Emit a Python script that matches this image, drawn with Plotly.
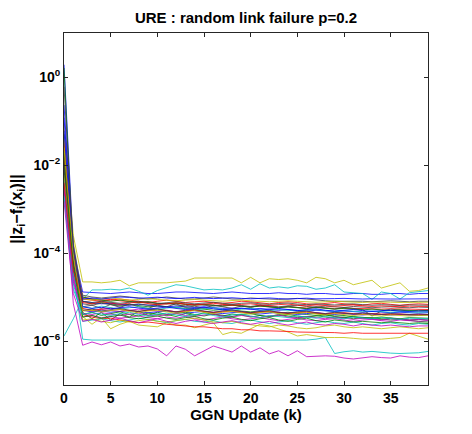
import plotly.graph_objects as go

# ---------------- data ----------------
k_steps = list(range(40))

s01 = [1.9, 1.2e-4, 1.3e-5, 1.25e-5, 1.2e-5, 1.2e-5, 1.25e-5, 1.3e-5, 1.25e-5, 1.2e-5, 1.2e-5, 1.25e-5, 1.3e-5, 1.3e-5, 1.25e-5, 1.2e-5, 1.2e-5, 1.25e-5, 1.3e-5, 1.25e-5, 1.2e-5, 1.2e-5, 1.2e-5, 1.25e-5, 1.2e-5, 1.2e-5, 1.15e-5, 1.2e-5, 1.2e-5, 1.15e-5, 1.15e-5, 1.2e-5, 1.2e-5, 1.15e-5, 1.15e-5, 1.2e-5, 1.2e-5, 1.15e-5, 1.2e-5, 1.2e-5]
s02 = [1.6, 6e-5, 8e-6, 7e-6, 7.5e-6, 7e-6, 6.5e-6, 6.8e-6, 6.5e-6, 6e-6, 6.2e-6, 6e-6, 5.8e-6, 5.5e-6, 5.6e-6, 5.3e-6, 5e-6, 5.2e-6, 5e-6, 4.8e-6, 4.6e-6, 4.8e-6, 4.5e-6, 4.3e-6, 4.5e-6, 4.2e-6, 4e-6, 4.2e-6, 3.9e-6, 3.7e-6, 3.8e-6, 3.5e-6, 3.3e-6, 3.4e-6, 3.2e-6, 3e-6, 3.1e-6, 2.9e-6, 2.8e-6, 2.7e-6]
s03 = [3e-2, 9e-5, 9e-6, 8.5e-6, 8e-6, 8.5e-6, 9e-6, 8.5e-6, 8e-6, 7.5e-6, 8e-6, 8.5e-6, 8e-6, 7.5e-6, 7.8e-6, 8e-6, 7.5e-6, 7.2e-6, 7.5e-6, 8e-6, 7.8e-6, 7.5e-6, 7e-6, 7.5e-6, 7.8e-6, 7.5e-6, 7e-6, 6.8e-6, 7.2e-6, 7.5e-6, 7e-6, 6.8e-6, 6.5e-6, 7e-6, 7.2e-6, 6.8e-6, 6.5e-6, 6.8e-6, 7e-6, 6.8e-6]
s04 = [1.3e-6, 3.2e-6, 9e-6, 1.45e-5, 1.45e-5, 1.5e-5, 1.45e-5, 1.6e-5, 1.35e-5, 1.1e-5, 1.4e-5, 1.6e-5, 1.9e-5, 1.8e-5, 1.6e-5, 1.45e-5, 1.5e-5, 1.45e-5, 1.6e-5, 1.9e-5, 1.5e-5, 2e-5, 1.6e-5, 1.7e-5, 1.6e-5, 1.8e-5, 1.75e-5, 1.5e-5, 1.6e-5, 1.9e-5, 1.3e-5, 1.25e-5, 1.2e-5, 8.8e-6, 1.3e-5, 1.2e-5, 9e-6, 1.25e-5, 1.3e-5, 1.4e-5]
s05 = [5e-3, 7e-6, 8e-7, 9.5e-7, 8.2e-7, 9.5e-7, 7.7e-7, 8.5e-7, 7.3e-7, 7.7e-7, 6.6e-7, 4.6e-7, 7.7e-7, 6.5e-7, 4.6e-7, 6e-7, 7.7e-7, 6.6e-7, 5.6e-7, 7.7e-7, 5.6e-7, 7e-7, 5.1e-7, 6e-7, 4.6e-7, 6e-7, 4.4e-7, 4.5e-7, 4.6e-7, 4.5e-7, 4.1e-7, 3.9e-7, 4.2e-7, 4.4e-7, 4.2e-7, 4.1e-7, 4.6e-7, 4.3e-7, 4.2e-7, 4.6e-7]
s06 = [8e-2, 2.5e-4, 2.2e-5, 2.2e-5, 2.1e-5, 2.2e-5, 2.4e-5, 1.8e-5, 2.1e-5, 2.1e-5, 2.1e-5, 2.1e-5, 2.2e-5, 2.3e-5, 2.7e-5, 2.7e-5, 2.6e-5, 2.7e-5, 2.7e-5, 2.1e-5, 2.8e-5, 2.1e-5, 2.6e-5, 2.5e-5, 2.6e-5, 2.4e-5, 2.1e-5, 2.8e-5, 2.6e-5, 2.1e-5, 2.4e-5, 1.9e-5, 2.1e-5, 2.4e-5, 1.6e-5, 1.8e-5, 2.1e-5, 1.35e-5, 1.4e-5, 1.6e-5]
s07 = [2e-2, 8e-5, 1.1e-5, 1e-5, 9.5e-6, 1e-5, 1.05e-5, 1e-5, 9.5e-6, 9e-6, 9.5e-6, 1e-5, 9.5e-6, 9e-6, 9e-6, 9.5e-6, 1e-5, 9.5e-6, 9e-6, 9e-6, 9.5e-6, 9.2e-6, 9e-6, 8.8e-6, 9e-6, 9.3e-6, 9e-6, 8.5e-6, 8.2e-6, 8e-6, 8e-6, 8.2e-6, 8e-6, 7.8e-6, 8e-6, 8.2e-6, 8e-6, 7.8e-6, 8e-6, 8e-6]
s08 = [0.23, 1.2e-4, 8e-6, 7.5e-6, 7e-6, 7.2e-6, 6.8e-6, 6.5e-6, 6.8e-6, 6.5e-6, 6.2e-6, 6e-6, 6.2e-6, 6e-6, 5.8e-6, 6e-6, 5.8e-6, 5.5e-6, 5.6e-6, 5.5e-6, 5.3e-6, 5.5e-6, 5.2e-6, 5e-6, 5.2e-6, 5e-6, 4.8e-6, 5e-6, 4.9e-6, 4.7e-6, 4.8e-6, 4.6e-6, 4.5e-6, 4.7e-6, 4.5e-6, 4.4e-6, 4.5e-6, 4.4e-6, 4.3e-6, 4.4e-6]
s09 = [5e-2, 7e-5, 4.5e-6, 3.2e-6, 4.5e-6, 3e-6, 4.2e-6, 3.5e-6, 4.8e-6, 3.8e-6, 4.5e-6, 4e-6, 3.6e-6, 4.2e-6, 3.8e-6, 4.4e-6, 4e-6, 3.7e-6, 4.1e-6, 3.9e-6, 3.5e-6, 3.8e-6, 3.6e-6, 4e-6, 3.7e-6, 3.4e-6, 3.6e-6, 3.8e-6, 3.5e-6, 3.3e-6, 3.5e-6, 3.2e-6, 3.4e-6, 3.3e-6, 3.1e-6, 3.3e-6, 3.2e-6, 3e-6, 3.1e-6, 3e-6]
s10 = [3.5e-2, 1.1e-4, 1e-5, 9e-6, 8.5e-6, 8.8e-6, 8.2e-6, 7.8e-6, 7.5e-6, 7.8e-6, 7.2e-6, 7e-6, 7.2e-6, 6.8e-6, 6.6e-6, 6.8e-6, 6.5e-6, 6.3e-6, 6.5e-6, 6.2e-6, 6e-6, 6.2e-6, 6e-6, 5.8e-6, 6e-6, 5.8e-6, 5.6e-6, 5.8e-6, 5.6e-6, 5.5e-6, 5.6e-6, 5.5e-6, 5.4e-6, 5.5e-6, 5.3e-6, 5.4e-6, 5.3e-6, 5.2e-6, 5.3e-6, 5.2e-6]
s11 = [1.2e-2, 4e-5, 1.1e-6, 1.05e-6, 1.05e-6, 1.05e-6, 1.05e-6, 1.05e-6, 1.05e-6, 1.05e-6, 1.05e-6, 1.05e-6, 1.05e-6, 1.05e-6, 1.05e-6, 1.05e-6, 1.05e-6, 1.05e-6, 1.05e-6, 1.05e-6, 1.05e-6, 1.05e-6, 1.05e-6, 1.05e-6, 1.05e-6, 1.05e-6, 1.05e-6, 1.1e-6, 1.2e-6, 5.2e-7, 5.7e-7, 6e-7, 5.6e-7, 5.8e-7, 5.5e-7, 5.3e-7, 5.2e-7, 5.3e-7, 5.4e-7, 5.8e-7]
s12 = [4e-3, 3e-5, 3.5e-6, 3.8e-6, 3.4e-6, 3.6e-6, 3.3e-6, 3.5e-6, 3.7e-6, 3.4e-6, 3.2e-6, 3.5e-6, 3.3e-6, 3.6e-6, 3.2e-6, 3e-6, 3.3e-6, 3.5e-6, 3.2e-6, 3e-6, 3.2e-6, 3.4e-6, 3.1e-6, 2.9e-6, 3.1e-6, 3.3e-6, 3e-6, 2.9e-6, 3.1e-6, 3.2e-6, 3e-6, 2.8e-6, 3e-6, 3.1e-6, 2.9e-6, 2.8e-6, 3e-6, 2.9e-6, 2.8e-6, 2.9e-6]
s13 = [1e-2, 1.5e-4, 3.6e-6, 2.4e-6, 3.4e-6, 1.9e-6, 2.4e-6, 2.8e-6, 2.3e-6, 2.2e-6, 2.1e-6, 2.6e-6, 2.3e-6, 2.3e-6, 2e-6, 2.3e-6, 2.6e-6, 1.4e-6, 1.6e-6, 1.5e-6, 1.9e-6, 2.4e-6, 2.2e-6, 1.9e-6, 1.6e-6, 1.3e-6, 1.4e-6, 1.3e-6, 1.2e-6, 1.2e-6, 1.2e-6, 1.15e-6, 1.1e-6, 1.1e-6, 1.1e-6, 1.15e-6, 1.2e-6, 1.5e-6, 1.3e-6, 1.1e-6]
s14 = [1.5e-2, 9e-5, 6e-6, 6.5e-6, 5.5e-6, 6.8e-6, 5.8e-6, 7e-6, 6e-6, 5.5e-6, 6.5e-6, 6e-6, 7e-6, 5.8e-6, 6.2e-6, 5.5e-6, 6.5e-6, 6e-6, 5.5e-6, 6.2e-6, 5.8e-6, 6.5e-6, 6e-6, 5.6e-6, 6.2e-6, 5.8e-6, 5.4e-6, 6e-6, 5.7e-6, 5.3e-6, 5.8e-6, 5.5e-6, 5.2e-6, 3.7e-6, 4.8e-6, 5.3e-6, 5e-6, 4.8e-6, 5e-6, 4.9e-6]
s15 = [8e-3, 5e-5, 5e-6, 4.6e-6, 4.8e-6, 4.5e-6, 4.7e-6, 4.9e-6, 4.6e-6, 4.4e-6, 4.6e-6, 4.8e-6, 4.5e-6, 4.3e-6, 4.5e-6, 4.7e-6, 4.4e-6, 4.2e-6, 4.4e-6, 4.6e-6, 4.3e-6, 4.1e-6, 4.3e-6, 4.5e-6, 4.2e-6, 4e-6, 4.2e-6, 4.4e-6, 4.1e-6, 4e-6, 4.2e-6, 4.1e-6, 3.9e-6, 4.1e-6, 4e-6, 3.9e-6, 4e-6, 3.9e-6, 3.8e-6, 3.9e-6]
s16 = [1.2e-2, 6e-5, 1e-5, 9e-6, 8.5e-6, 8e-6, 8.5e-6, 8e-6, 7.5e-6, 7.8e-6, 7.2e-6, 7e-6, 7.3e-6, 6.8e-6, 6.5e-6, 6.8e-6, 6.4e-6, 6.2e-6, 6.5e-6, 6.1e-6, 5.9e-6, 6.2e-6, 6e-6, 5.7e-6, 5.9e-6, 5.6e-6, 5.5e-6, 5.8e-6, 5.5e-6, 5.3e-6, 5.5e-6, 5.2e-6, 5.1e-6, 5.3e-6, 5e-6, 4.9e-6, 5.1e-6, 4.9e-6, 4.8e-6, 4.9e-6]
s17 = [2e-2, 1e-4, 4e-6, 3.5e-6, 3.2e-6, 3.3e-6, 3e-6, 2.8e-6, 2.6e-6, 2.7e-6, 2.5e-6, 2.4e-6, 2.3e-6, 2.2e-6, 2.1e-6, 2.1e-6, 2e-6, 1.9e-6, 1.9e-6, 1.8e-6, 1.8e-6, 1.7e-6, 1.7e-6, 1.7e-6, 1.65e-6, 1.6e-6, 1.6e-6, 1.6e-6, 1.55e-6, 1.55e-6, 1.5e-6, 1.55e-6, 1.5e-6, 1.5e-6, 1.5e-6, 1.45e-6, 1.5e-6, 1.5e-6, 1.45e-6, 1.5e-6]
s18 = [3e-3, 2e-5, 2.8e-6, 3e-6, 3.2e-6, 2.9e-6, 2.7e-6, 3e-6, 3.3e-6, 3.1e-6, 2.8e-6, 2.6e-6, 2.9e-6, 3.1e-6, 2.8e-6, 2.7e-6, 2.9e-6, 2.6e-6, 2.5e-6, 2.8e-6, 3e-6, 2.7e-6, 2.5e-6, 2.7e-6, 2.9e-6, 2.6e-6, 2.4e-6, 2.6e-6, 2.8e-6, 2.6e-6, 2.5e-6, 2.7e-6, 2.5e-6, 2.3e-6, 2.5e-6, 2.6e-6, 2.4e-6, 2.3e-6, 2.5e-6, 2.4e-6]
s19 = [2.5e-3, 2.5e-5, 5e-6, 4.8e-6, 5.2e-6, 5e-6, 4.7e-6, 5e-6, 5.3e-6, 5e-6, 4.8e-6, 5e-6, 4.6e-6, 4.8e-6, 5e-6, 4.7e-6, 4.5e-6, 4.8e-6, 5e-6, 4.6e-6, 4.4e-6, 4.6e-6, 4.8e-6, 4.5e-6, 4.3e-6, 4.5e-6, 4.7e-6, 4.4e-6, 4.2e-6, 4.4e-6, 4.3e-6, 4.1e-6, 4.3e-6, 4.2e-6, 4e-6, 4.2e-6, 4.1e-6, 3.9e-6, 4e-6, 4e-6]
s20 = [5e-2, 1.8e-4, 9e-6, 8.5e-6, 9e-6, 9.5e-6, 9e-6, 8.5e-6, 8.8e-6, 9.2e-6, 8.8e-6, 8.5e-6, 8.2e-6, 8.5e-6, 8.8e-6, 8.5e-6, 8.2e-6, 8e-6, 8.3e-6, 8.5e-6, 8.2e-6, 8e-6, 7.8e-6, 8e-6, 8.2e-6, 8e-6, 7.8e-6, 7.6e-6, 7.8e-6, 8e-6, 7.8e-6, 7.6e-6, 7.5e-6, 7.7e-6, 7.8e-6, 7.6e-6, 7.5e-6, 7.6e-6, 7.7e-6, 7.6e-6]
s21 = [1e-2, 7e-5, 7e-6, 6.5e-6, 7.2e-6, 6.8e-6, 6.2e-6, 6.6e-6, 7e-6, 6.5e-6, 6.8e-6, 7.2e-6, 6.6e-6, 6.3e-6, 6.8e-6, 6.5e-6, 6.2e-6, 6.6e-6, 6.8e-6, 6.4e-6, 6.1e-6, 6.5e-6, 6.3e-6, 6e-6, 6.3e-6, 6.5e-6, 6.1e-6, 5.9e-6, 6.2e-6, 6e-6, 5.8e-6, 6.1e-6, 5.9e-6, 5.7e-6, 5.9e-6, 6e-6, 5.8e-6, 5.7e-6, 5.9e-6, 5.8e-6]
s22 = [0.12, 1.5e-4, 9e-6, 9.5e-6, 9e-6, 9.5e-6, 1e-5, 9.8e-6, 9.4e-6, 9.6e-6, 9.9e-6, 9.5e-6, 9.2e-6, 9.5e-6, 9.8e-6, 9.4e-6, 9.2e-6, 9.4e-6, 9.6e-6, 9.3e-6, 9.1e-6, 9.3e-6, 9.5e-6, 9.2e-6, 9e-6, 9.2e-6, 9.4e-6, 9.1e-6, 9e-6, 9.2e-6, 9.3e-6, 9.1e-6, 9e-6, 9.1e-6, 9.2e-6, 9e-6, 9e-6, 9.1e-6, 9e-6, 9.1e-6]
s23 = [7e-3, 4e-5, 4e-6, 4.5e-6, 3.8e-6, 4.2e-6, 4.6e-6, 4e-6, 3.7e-6, 4.3e-6, 4.1e-6, 3.8e-6, 4.2e-6, 4.5e-6, 4e-6, 3.7e-6, 4.1e-6, 3.9e-6, 3.6e-6, 4e-6, 4.2e-6, 3.8e-6, 3.5e-6, 3.8e-6, 4e-6, 3.7e-6, 3.5e-6, 3.7e-6, 3.9e-6, 3.6e-6, 3.4e-6, 3.6e-6, 3.5e-6, 3.3e-6, 3.5e-6, 3.4e-6, 3.2e-6, 3.4e-6, 3.3e-6, 3.3e-6]
s24 = [1.8e-2, 8e-5, 5.5e-6, 5e-6, 5.3e-6, 5.6e-6, 5.2e-6, 4.9e-6, 4.7e-6, 5e-6, 5.3e-6, 4.9e-6, 4.6e-6, 4.8e-6, 5e-6, 4.7e-6, 4.4e-6, 4.6e-6, 4.8e-6, 4.5e-6, 4.3e-6, 4.5e-6, 4.7e-6, 4.4e-6, 4.2e-6, 4.4e-6, 4.5e-6, 4.3e-6, 4.1e-6, 4.3e-6, 4.4e-6, 4.2e-6, 4e-6, 4.2e-6, 4.1e-6, 4e-6, 4.1e-6, 4e-6, 3.9e-6, 4e-6]
s25 = [5e-3, 3.5e-5, 6e-6, 5.5e-6, 6.2e-6, 5.8e-6, 5.3e-6, 5.7e-6, 6e-6, 5.5e-6, 5.2e-6, 5.6e-6, 5.9e-6, 5.4e-6, 5.1e-6, 5.4e-6, 5.7e-6, 5.2e-6, 5e-6, 5.3e-6, 5.5e-6, 5.1e-6, 4.9e-6, 5.2e-6, 5e-6, 4.8e-6, 5e-6, 5.2e-6, 4.9e-6, 4.7e-6, 4.9e-6, 4.8e-6, 4.6e-6, 4.8e-6, 4.7e-6, 4.5e-6, 4.7e-6, 4.6e-6, 4.5e-6, 4.6e-6]
s26 = [3e-3, 2.2e-5, 4.2e-6, 4e-6, 4.4e-6, 4.1e-6, 3.8e-6, 4.1e-6, 4.3e-6, 3.9e-6, 3.7e-6, 4e-6, 4.2e-6, 3.8e-6, 3.6e-6, 3.9e-6, 4.1e-6, 3.7e-6, 3.5e-6, 3.8e-6, 3.6e-6, 3.4e-6, 3.7e-6, 3.9e-6, 3.5e-6, 3.3e-6, 3.6e-6, 3.4e-6, 3.2e-6, 3.5e-6, 3.3e-6, 3.1e-6, 3.3e-6, 3.2e-6, 3e-6, 3.2e-6, 3.1e-6, 3e-6, 3.1e-6, 3e-6]
s27 = [6e-3, 8e-5, 3e-6, 3.2e-6, 2.8e-6, 2.6e-6, 3e-6, 2.7e-6, 2.9e-6, 3.1e-6, 2.8e-6, 2.7e-6, 2.9e-6, 3.1e-6, 3.3e-6, 3e-6, 2.7e-6, 2.6e-6, 2.8e-6, 2.5e-6, 2.3e-6, 2.2e-6, 2.1e-6, 2.3e-6, 2.2e-6, 2e-6, 1.9e-6, 2e-6, 2.2e-6, 2.3e-6, 2.1e-6, 2e-6, 2.1e-6, 2e-6, 1.9e-6, 2e-6, 2.1e-6, 2e-6, 1.9e-6, 2e-6]
s28 = [9e-3, 6e-5, 5e-6, 5.3e-6, 4.8e-6, 5.2e-6, 5.5e-6, 5e-6, 4.7e-6, 5.1e-6, 5.4e-6, 4.9e-6, 4.6e-6, 5e-6, 5.2e-6, 4.8e-6, 4.5e-6, 4.8e-6, 5.1e-6, 4.7e-6, 4.4e-6, 4.7e-6, 4.9e-6, 4.5e-6, 4.3e-6, 4.6e-6, 4.8e-6, 4.4e-6, 4.2e-6, 4.5e-6, 4.3e-6, 4.1e-6, 4.3e-6, 4.2e-6, 4e-6, 4.2e-6, 4.1e-6, 4e-6, 4.1e-6, 4e-6]
s29 = [6e-2, 1e-4, 6e-6, 5.5e-6, 5.8e-6, 5.4e-6, 5.7e-6, 6e-6, 5.6e-6, 5.3e-6, 5.6e-6, 5.9e-6, 5.5e-6, 5.2e-6, 5.5e-6, 5.8e-6, 5.4e-6, 5.1e-6, 5.4e-6, 5.6e-6, 5.3e-6, 5e-6, 5.3e-6, 5.5e-6, 5.2e-6, 4.9e-6, 5.2e-6, 5.4e-6, 5e-6, 4.8e-6, 5e-6, 5.2e-6, 4.9e-6, 4.7e-6, 4.9e-6, 5e-6, 4.8e-6, 4.7e-6, 4.8e-6, 4.8e-6]
s30 = [2e-2, 5e-5, 3.5e-6, 3.8e-6, 3.3e-6, 3.6e-6, 3.9e-6, 3.4e-6, 3.2e-6, 3.5e-6, 3.7e-6, 3.3e-6, 3.1e-6, 3.4e-6, 3.6e-6, 3.2e-6, 3e-6, 3.3e-6, 3.5e-6, 3.1e-6, 2.9e-6, 3.2e-6, 3.4e-6, 3e-6, 2.8e-6, 3.1e-6, 3.3e-6, 2.9e-6, 2.7e-6, 3e-6, 2.9e-6, 2.7e-6, 2.8e-6, 2.7e-6, 2.6e-6, 2.7e-6, 2.6e-6, 2.5e-6, 2.6e-6, 2.5e-6]
s31 = [4e-3, 4e-5, 7.5e-6, 7e-6, 7.8e-6, 7.2e-6, 6.8e-6, 7.3e-6, 7.7e-6, 7.1e-6, 6.7e-6, 7e-6, 7.4e-6, 6.9e-6, 6.6e-6, 6.9e-6, 7.2e-6, 6.8e-6, 6.5e-6, 6.8e-6, 7e-6, 6.6e-6, 6.4e-6, 6.7e-6, 6.9e-6, 6.5e-6, 6.3e-6, 6.6e-6, 6.4e-6, 6.2e-6, 6.4e-6, 6.6e-6, 6.3e-6, 6.1e-6, 6.3e-6, 6.2e-6, 6e-6, 6.2e-6, 6.1e-6, 6.1e-6]
s32 = [2e-3, 1.5e-5, 4e-6, 4.4e-6, 4.1e-6, 3.8e-6, 4.2e-6, 4.5e-6, 4e-6, 3.7e-6, 4.1e-6, 4.3e-6, 3.9e-6, 3.6e-6, 4e-6, 4.2e-6, 3.8e-6, 3.5e-6, 3.9e-6, 4.1e-6, 3.7e-6, 3.4e-6, 3.8e-6, 3.6e-6, 3.4e-6, 3.7e-6, 3.5e-6, 3.3e-6, 3.6e-6, 3.4e-6, 3.2e-6, 3.5e-6, 3.3e-6, 3.2e-6, 3.4e-6, 3.3e-6, 3.1e-6, 3.3e-6, 3.2e-6, 3.2e-6]
s33 = [1.5e-3, 1.2e-5, 2.8e-6, 3.1e-6, 2.7e-6, 3e-6, 3.3e-6, 2.9e-6, 2.6e-6, 2.9e-6, 3.2e-6, 2.8e-6, 2.5e-6, 2.8e-6, 3e-6, 2.7e-6, 2.5e-6, 2.7e-6, 2.9e-6, 2.6e-6, 2.4e-6, 2.6e-6, 2.8e-6, 2.5e-6, 2.3e-6, 2.5e-6, 2.7e-6, 2.4e-6, 2.3e-6, 2.5e-6, 2.4e-6, 2.2e-6, 2.4e-6, 2.3e-6, 2.2e-6, 2.3e-6, 2.2e-6, 2.1e-6, 2.2e-6, 2.2e-6]
s34 = [2.5e-2, 9e-5, 4.8e-6, 5e-6, 4.6e-6, 4.9e-6, 5.2e-6, 4.7e-6, 4.4e-6, 4.8e-6, 5e-6, 4.6e-6, 4.3e-6, 4.6e-6, 4.9e-6, 4.5e-6, 4.2e-6, 4.5e-6, 4.7e-6, 4.4e-6, 4.1e-6, 4.4e-6, 4.6e-6, 4.2e-6, 4e-6, 4.3e-6, 4.5e-6, 4.1e-6, 3.9e-6, 4.2e-6, 4e-6, 3.8e-6, 4e-6, 3.9e-6, 3.7e-6, 3.9e-6, 3.8e-6, 3.7e-6, 3.8e-6, 3.8e-6]
s35 = [0.6, 1.3e-4, 8e-6, 7.5e-6, 8e-6, 7.6e-6, 7.2e-6, 7.6e-6, 8e-6, 7.5e-6, 7.1e-6, 7.4e-6, 7.8e-6, 7.3e-6, 7e-6, 7.3e-6, 7.6e-6, 7.2e-6, 6.9e-6, 7.2e-6, 7.4e-6, 7e-6, 6.8e-6, 7.1e-6, 7.3e-6, 6.9e-6, 6.7e-6, 7e-6, 6.8e-6, 6.6e-6, 6.8e-6, 7e-6, 6.7e-6, 6.5e-6, 6.7e-6, 6.6e-6, 6.4e-6, 6.6e-6, 6.5e-6, 6.5e-6]

series = [s01, s02, s03, s04, s05, s06, s07, s08, s09, s10, s11, s12, s13, s14, s15,
          s16, s17, s18, s19, s20, s21, s22, s23, s24, s25, s26, s27, s28, s29, s30,
          s31, s32, s33, s34, s35]

y_tickvals = [1e-6, 1e-4, 1e-2, 1e0]
y_ticktext = ["10<sup>−6</sup>", "10<sup>−4</sup>", "10<sup>−2</sup>", "10<sup>0</sup>"]
x_tickvals = [0, 5, 10, 15, 20, 25, 30, 35]

title_text = "URE : random link failure p=0.2"
x_title = "GGN Update (k)"
y_title = "||z<sub>i</sub>−f<sub>i</sub>(x<sub>i</sub>)||"

# MATLAB classic color order
color_order = ["rgb(0,0,255)", "rgb(0,128,0)", "rgb(255,0,0)", "rgb(0,191,191)",
               "rgb(191,0,191)", "rgb(191,191,0)", "rgb(64,64,64)"]

# ---------------- figure ----------------
fig = go.Figure()
for i, s in enumerate(series):
    fig.add_trace(go.Scatter(
        x=k_steps[:len(s)], y=s, mode="lines",
        line=dict(color=color_order[i % 7], width=0.8),
        showlegend=False, hoverinfo="skip"))

font_family = "Liberation Sans, Arial, Helvetica, sans-serif"
axis_common = dict(showline=True, mirror="ticks", linecolor="#262626", linewidth=1,
                   ticks="inside", ticklen=4, tickwidth=1, tickcolor="#262626",
                   showgrid=False, zeroline=False,
                   tickfont=dict(family=font_family, size=14, color="black", weight="bold"))

# page body has an 8px default margin, so the figure is sized 8px smaller
fig.update_layout(
    width=464, height=426,
    margin=dict(l=56, r=44, t=25, b=49, autoexpand=False),
    paper_bgcolor="white", plot_bgcolor="white",
    title=dict(text=title_text, xref="paper", x=0.5, xanchor="center",
               y=0.977, yanchor="middle",
               font=dict(family=font_family, size=15, color="black", weight="bold")),
    xaxis=dict(range=[0, 39], tickvals=x_tickvals,
               title=dict(text=x_title, standoff=1,
                          font=dict(family=font_family, size=15, color="black", weight="bold")),
               **axis_common),
    yaxis=dict(type="log", range=[-7, 1], tickvals=y_tickvals, ticktext=y_ticktext,
               title=dict(text=y_title, standoff=11,
                          font=dict(family=font_family, size=16, color="black", weight="bold")),
               **axis_common),
)

fig.write_html("out.html")
